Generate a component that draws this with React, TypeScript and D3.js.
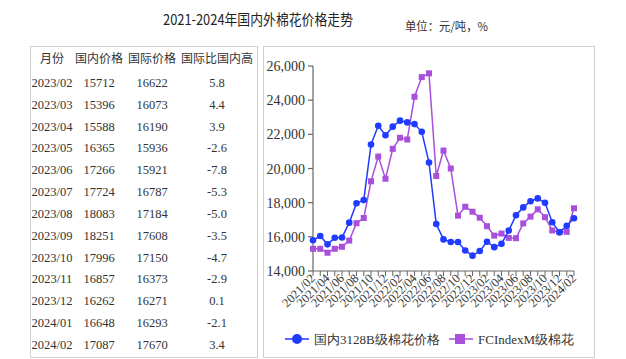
import React from "react";
import * as d3 from "d3";

const months: string[] = [];
for (let y = 2021; y <= 2024; y++) {
  for (let m = 1; m <= 12; m++) {
    const s = `${y}/${String(m).padStart(2, "0")}`;
    if (s >= "2021/02" && s <= "2024/02") months.push(s);
  }
}

const domestic = [
  15800, 16050, 15560, 15950, 15960, 16830, 17970, 18150, 21400, 22500, 21950, 22450,
  22800, 22700, 22600, 22150, 20350, 16750, 15850, 15700, 15700, 15200, 14900, 15170,
  15712, 15396, 15588, 16365, 17266, 17724, 18083, 18251, 17996, 16857, 16262, 16648, 17087,
];
const international = [
  15300, 15300, 15070, 15300, 15420, 15780, 16800, 17100, 19250, 20700, 19400, 21150,
  21800, 21700, 24200, 25350, 25570, 19560, 21050, 20000, 17240, 17760, 17470, 17120,
  16622, 16073, 16190, 15936, 15921, 16787, 17184, 17608, 17150, 16373, 16271, 16293, 17670,
];

const tableMonths = ["2023/02","2023/03","2023/04","2023/05","2023/06","2023/07","2023/08","2023/09","2023/10","2023/11","2023/12","2024/01","2024/02"];
const tableDomestic = [15712,15396,15588,16365,17266,17724,18083,18251,17996,16857,16262,16648,17087];
const tableIntl = [16622,16073,16190,15936,15921,16787,17184,17608,17150,16373,16271,16293,17670];
const tableDiff = ["5.8","4.4","3.9","-2.6","-7.8","-5.3","-5.0","-3.5","-4.7","-2.9","0.1","-2.1","3.4"];
const tableHeaders = ["月份", "国内价格", "国际价格", "国际比国内高"];
const yTicks = [14000, 16000, 18000, 20000, 22000, 24000, 26000];
const seriesNames = ["国内3128B级棉花价格", "FCIndexM级棉花"];

const BLUE = "#1f3bff";
const PURPLE = "#a84fdc";
const SERIF = "'Liberation Serif', 'Times New Roman', serif";
const CJK = "'Noto Sans CJK SC', sans-serif";

export default function App() {
  const x = d3.scaleLinear().domain([0, months.length - 1]).range([313, 574]);
  const y = d3.scaleLinear().domain([14000, 26000]).range([271, 66]);
  const line = d3
    .line<number>()
    .x((_, i) => x(i))
    .y((d) => y(d));

  const colX = [52, 99, 152, 217];
  const rowY = (i: number) => 87 + i * 21.83;
  const fmt = d3.format(",");

  return (
    <svg
      width={626}
      height={359}
      style={{ position: "absolute", left: 0, top: 0, background: "#fff" }}
    >
      <text x={163} y={25} textLength={190} lengthAdjust="spacingAndGlyphs" fontFamily={CJK} fontSize={15} fill="#222">
        2021-2024年国内外棉花价格走势
      </text>
      <text x={405} y={31} textLength={83} lengthAdjust="spacingAndGlyphs" fontFamily={CJK} fontSize={12} fill="#333">
        单位：元/吨，%
      </text>

      {/* table */}
      <rect x={30.5} y={46.5} width={227} height={311} fill="none" stroke="#cfcfcf" />
      {tableHeaders.map((h, i) => (
        <text key={h} x={colX[i]} y={63} textAnchor="middle" fontFamily={CJK} fontSize={12} fill="#333">
          {h}
        </text>
      ))}
      {tableMonths.map((m, i) => (
        <g key={m} fontFamily={SERIF} fontSize={12.5} fill="#333" textAnchor="middle">
          <text x={colX[0]} y={rowY(i)}>{m}</text>
          <text x={colX[1]} y={rowY(i)}>{tableDomestic[i]}</text>
          <text x={colX[2]} y={rowY(i)}>{tableIntl[i]}</text>
          <text x={colX[3]} y={rowY(i)}>{tableDiff[i]}</text>
        </g>
      ))}

      {/* chart box */}
      <rect x={263.5} y={46.5} width={331} height={311} fill="none" stroke="#cfcfcf" />

      {/* y axis */}
      <line x1={313} x2={313} y1={66} y2={271} stroke="#666" strokeWidth={1.2} />
      {yTicks.map((t) => (
        <g key={t}>
          <line x1={308} x2={313} y1={y(t)} y2={y(t)} stroke="#666" strokeWidth={1.2} />
          <text x={305} y={y(t) + 5} textAnchor="end" fontFamily={SERIF} fontSize={14} fill="#333">
            {fmt(t)}
          </text>
        </g>
      ))}

      {/* x axis */}
      <line x1={313} x2={574} y1={271} y2={271} stroke="#666" strokeWidth={1.2} />
      {months.map((m, i) => (
        <g key={m}>
          <line x1={x(i)} x2={x(i)} y1={271} y2={276} stroke="#666" strokeWidth={1} />
          {i % 2 === 0 && (
            <text
              transform={`translate(${x(i) + 3},${279}) rotate(-45)`}
              textAnchor="end"
              fontFamily={SERIF}
              fontSize={12.5}
              fill="#333"
            >
              {m}
            </text>
          )}
        </g>
      ))}

      {/* series */}
      <path d={line(international) || ""} fill="none" stroke={PURPLE} strokeWidth={1.5} />
      {international.map((v, i) => (
        <rect key={i} x={x(i) - 3} y={y(v) - 3} width={6} height={6} fill={PURPLE} />
      ))}
      <path d={line(domestic) || ""} fill="none" stroke={BLUE} strokeWidth={1.5} />
      {domestic.map((v, i) => (
        <circle key={i} cx={x(i)} cy={y(v)} r={3.3} fill={BLUE} />
      ))}

      {/* legend */}
      <line x1={285} x2={309} y1={339} y2={339} stroke={BLUE} strokeWidth={1.5} />
      <circle cx={297} cy={339} r={5} fill={BLUE} />
      <text x={314} y={344} fontFamily={SERIF} fontSize={13} fill="#333">{seriesNames[0]}</text>
      <line x1={449} x2={473} y1={339} y2={339} stroke={PURPLE} strokeWidth={1.5} />
      <rect x={455} y={334} width={10} height={10} fill={PURPLE} />
      <text x={478} y={344} fontFamily={SERIF} fontSize={13} fill="#333">{seriesNames[1]}</text>
    </svg>
  );
}
